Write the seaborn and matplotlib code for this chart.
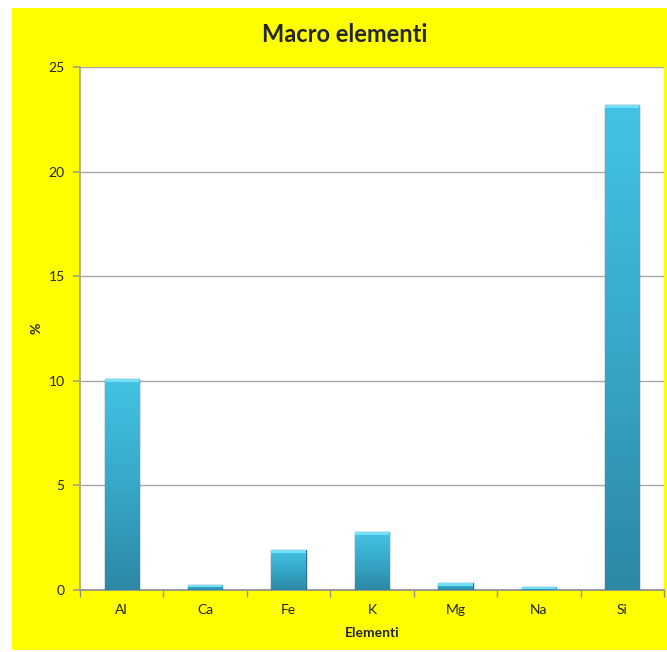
import matplotlib
matplotlib.use("Agg")
import matplotlib.pyplot as plt
import seaborn as sns
import numpy as np
import pandas as pd
from matplotlib.patches import Rectangle
from matplotlib.colors import LinearSegmentedColormap

categories = ["Al", "Ca", "Fe", "K", "Mg", "Na", "Si"]
values = [10.1, 0.24, 1.9, 2.77, 0.33, 0.12, 23.2]
yticks = [0, 5, 10, 15, 20, 25]

df = pd.DataFrame({"Elementi": categories, "%": values})

sns.set_theme(style="white")
plt.rcParams['font.family'] = ['Lato', 'DejaVu Sans']

fig = plt.figure(figsize=(6.67, 6.52), dpi=100)
fig.patch.set_facecolor("white")
fig.patches.append(Rectangle((12/667, 2/652), 655/667, 642/652, transform=fig.transFigure,
                             facecolor="#FFFF00", edgecolor="none", zorder=-10))

ax = fig.add_axes([80/667, 1-590/652, 584/667, 523/652])
ax.set_facecolor("white")
sns.barplot(data=df, x="Elementi", y="%", color="#3AB5D8", width=0.41,
            edgecolor="#2A7088", linewidth=1.0, ax=ax, zorder=3)

cmap = LinearSegmentedColormap.from_list("g", ["#2C88A4", "#37A8C9", "#43C3E5"])
grad = np.linspace(0, 1, 256).reshape(-1, 1)
for p in list(ax.patches):
    x0, y0 = p.get_x(), p.get_y()
    w, h = p.get_width(), p.get_height()
    im = ax.imshow(grad, extent=[x0, x0 + w, y0, y0 + h], origin="lower",
                   cmap=cmap, aspect="auto", zorder=3.5)
    im.set_clip_path(p)
    th = min(0.14, h * 0.45)
    ax.add_patch(Rectangle((x0, y0 + h - th), w, th,
                           facecolor="#74E0F7", edgecolor="none", zorder=3.6))

ax.set_xlim(-0.5, len(categories) - 0.5)
ax.set_ylim(0, 25)
ax.set_yticks(yticks)
ax.yaxis.grid(True, color="#A8A8A8", linewidth=1, zorder=0)
ax.set_axisbelow(True)

for s in ["top", "right"]:
    ax.spines[s].set_visible(False)
ax.spines["left"].set_color("#A8A878")
ax.spines["bottom"].set_color("#909090")

ax.set_xticks(np.arange(len(categories)))
ax.set_xticklabels(categories)
ax.set_xticks(np.arange(-0.5, len(categories)), minor=True)
ax.tick_params(axis="x", which="major", length=0, pad=10, labelsize=10, labelcolor="#222222")
ax.tick_params(axis="x", which="minor", length=5, color="#909090", direction="out", bottom=True)
ax.tick_params(axis="y", length=5, color="#A8A878", direction="out", labelsize=10,
               labelcolor="#222222", pad=6, left=True)

ax.set_xlabel("Elementi", fontsize=10, fontweight="bold", labelpad=8)
ax.set_ylabel("%", fontsize=10, fontweight="bold", labelpad=4)

fig.text(345/667, 1-34/652, "Macro elementi", ha="center", va="center",
         fontsize=17, fontweight="bold")

fig.savefig("out.png", dpi=100)
